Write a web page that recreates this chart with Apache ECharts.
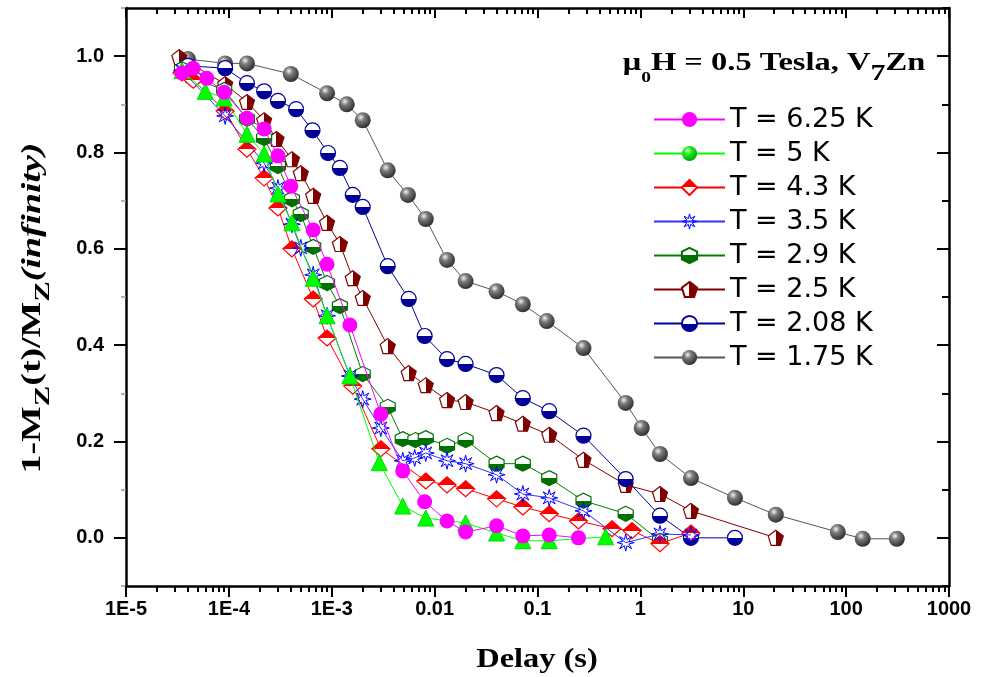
<!DOCTYPE html>
<html>
<head>
<meta charset="utf-8">
<script src="https://cdn.jsdelivr.net/npm/echarts@6/dist/echarts.min.js"></script>
<style>
html,body{margin:0;padding:0;background:#fff;}
#chart{width:985px;height:677px;}
</style>
</head>
<body>
<div id="chart"></div>
<script>
// ---------------- DATA ----------------
const seriesNames = ['T = 6.25 K','T = 5 K','T = 4.3 K','T = 3.5 K','T = 2.9 K','T = 2.5 K','T = 2.08 K','T = 1.75 K'];

const x625 = [3.5e-5,4.5e-5,6.1e-5,9.0e-5,1.5e-4,2.2e-4,3.0e-4,4.0e-4,6.6e-4,9.0e-4,1.5e-3,3.0e-3,4.9e-3,8.0e-3,0.0132,0.02,0.04,0.072,0.13,0.25];
const y625 = [0.965,0.975,0.954,0.925,0.871,0.849,0.793,0.730,0.639,0.568,0.442,0.257,0.139,0.075,0.035,0.012,0.025,0.004,0.006,0.0];

const x5 = [3.5e-5,5.9e-5,9.0e-5,1.5e-4,2.2e-4,3.0e-4,4.1e-4,6.6e-4,9.0e-4,1.5e-3,2.9e-3,4.9e-3,8.2e-3,0.02,0.04,0.072,0.13,0.46];
const y5 = [0.97,0.927,0.913,0.838,0.797,0.714,0.654,0.539,0.461,0.336,0.156,0.066,0.041,0.031,0.010,-0.006,-0.006,0.002];

const x43 = [3.5e-5,4.5e-5,9.2e-5,1.5e-4,2.2e-4,3.0e-4,4.1e-4,6.6e-4,9.0e-4,1.6e-3,3.0e-3,8.2e-3,0.0132,0.02,0.04,0.072,0.13,0.25,0.53,0.83,1.55,3.1];
const y43 = [0.965,0.95,0.886,0.807,0.747,0.685,0.60,0.496,0.415,0.315,0.185,0.118,0.110,0.102,0.081,0.064,0.050,0.035,0.019,0.015,-0.012,0.010];

const x35 = [3.5e-5,9.2e-5,2.2e-4,3.0e-4,4.1e-4,5.0e-4,6.6e-4,9.0e-4,1.5e-3,2.0e-3,3.0e-3,4.9e-3,6.4e-3,8.2e-3,0.0132,0.02,0.04,0.072,0.13,0.28,0.72,1.55,3.1];
const y35 = [0.97,0.876,0.778,0.726,0.651,0.602,0.546,0.461,0.336,0.288,0.228,0.160,0.166,0.176,0.160,0.154,0.131,0.091,0.083,0.056,-0.010,0.008,0.006];

const x29 = [3.5e-5,4.5e-5,9.0e-5,1.5e-4,2.2e-4,3.0e-4,4.1e-4,5.0e-4,6.6e-4,9.0e-4,1.2e-3,2.0e-3,3.5e-3,4.9e-3,6.5e-3,8.2e-3,0.0132,0.02,0.04,0.072,0.13,0.28,0.72,1.55];
const y29 = [0.973,0.954,0.93,0.87,0.830,0.772,0.703,0.672,0.604,0.529,0.481,0.340,0.272,0.205,0.203,0.207,0.191,0.203,0.154,0.154,0.124,0.077,0.050,-0.006];

const x25 = [3.3e-5,9.2e-5,1.5e-4,2.2e-4,2.9e-4,4.1e-4,5.0e-4,6.6e-4,9.0e-4,1.2e-3,1.6e-3,2.0e-3,3.5e-3,5.6e-3,8.2e-3,0.0132,0.02,0.04,0.072,0.13,0.28,0.72,1.55,3.1,20.7];
const y25 = [0.998,0.942,0.905,0.867,0.828,0.786,0.757,0.710,0.654,0.610,0.539,0.498,0.398,0.342,0.317,0.286,0.282,0.259,0.237,0.214,0.162,0.110,0.091,0.056,0.0];

const x208 = [4.0e-5,9.2e-5,1.5e-4,2.2e-4,3.0e-4,4.5e-4,6.5e-4,9.2e-4,1.2e-3,1.6e-3,2.0e-3,3.5e-3,5.6e-3,8.0e-3,0.0132,0.02,0.04,0.072,0.13,0.28,0.72,1.55,3.1,8.3];
const y208 = [0.98,0.975,0.944,0.927,0.907,0.890,0.846,0.799,0.768,0.712,0.687,0.564,0.496,0.419,0.371,0.361,0.338,0.290,0.263,0.212,0.122,0.046,0.0,0.0];

const x175 = [4.0e-5,9.2e-5,1.5e-4,4.0e-4,9.0e-4,1.4e-3,2.0e-3,3.5e-3,5.5e-3,8.2e-3,0.0132,0.02,0.04,0.072,0.123,0.28,0.72,1.03,1.55,3.1,8.3,20.7,83,145,311];
const y175 = [0.994,0.985,0.985,0.963,0.923,0.900,0.867,0.763,0.712,0.662,0.577,0.533,0.512,0.485,0.450,0.394,0.280,0.228,0.174,0.124,0.083,0.048,0.012,-0.002,-0.002];

const xTickValues = [1e-5,1e-4,1e-3,0.01,0.1,1,10,100,1000];
const xTickLabels = ['1E-5','1E-4','1E-3','0.01','0.1','1','10','100','1000'];
const yTickValues = [0.0,0.2,0.4,0.6,0.8,1.0];
const yTickLabels = ['0.0','0.2','0.4','0.6','0.8','1.0'];
const yMinorValues = [-0.1,0.1,0.3,0.5,0.7,0.9,1.1];

// ---------------- helpers ----------------
const xMinorValues = [];
for (let d = -5; d < 3; d++) {
  for (let m = 2; m <= 9; m++) xMinorValues.push(+(m * Math.pow(10, d)).toPrecision(3));
}
function pairs(xs, ys){ return xs.map((x,i)=>[x, ys[i]]); }
function halfV(topColor, bottomColor){
  return {type:'linear',x:0,y:0,x2:0,y2:1,colorStops:[
    {offset:0,color:topColor},{offset:0.5,color:topColor},
    {offset:0.5,color:bottomColor},{offset:1,color:bottomColor}]};
}
function halfH(leftColor, rightColor){
  return {type:'linear',x:0,y:0,x2:1,y2:0,colorStops:[
    {offset:0,color:leftColor},{offset:0.5,color:leftColor},
    {offset:0.5,color:rightColor},{offset:1,color:rightColor}]};
}
function sphere(light, mid, dark){
  return {type:'radial',x:0.38,y:0.32,r:0.7,colorStops:[
    {offset:0,color:light},{offset:0.35,color:mid},{offset:1,color:dark}]};
}
function starPath(n, r1, r2){
  let p = '';
  for (let i = 0; i < 2*n; i++){
    const a = Math.PI*i/n - Math.PI/2;
    const r = (i % 2) ? r2 : r1;
    p += (i ? 'L' : 'M') + (r*Math.cos(a)).toFixed(2) + ',' + (r*Math.sin(a)).toFixed(2) + ' ';
  }
  return 'path://' + p + 'Z';
}
const PENTAGON = 'path://M0,-10 L9.51,-3.09 L5.88,8.09 L-5.88,8.09 L-9.51,-3.09 Z';
const HEXAGON = 'path://M0,-10 L8.66,-5 L8.66,5 L0,10 L-8.66,5 L-8.66,-5 Z';
const STAR = starPath(8, 10, 4);

function lineSeries(name, data, lineColor, symbol, size, itemStyle, z){
  return {
    name, type:'line', data, symbol, symbolSize:size, z,
    showSymbol:true, animation:false,
    lineStyle:{color:lineColor, width:1},
    itemStyle:itemStyle,
    emphasis:{disabled:true}
  };
}

// 5 K: triangles in plot, sphere in legend
const data5 = pairs(x5, y5).map(p => ({value:p, symbol:'triangle', symbolSize:16,
  itemStyle:{color:'#00ff00', borderColor:'#00dd00', borderWidth:1}}));

const series = [
  lineSeries('T = 1.75 K', pairs(x175,y175), '#555555', 'circle', 16,
    {color: sphere('#f2f2f2','#7a7a7a','#2c2c2c')}, 2),
  lineSeries('T = 2.5 K', pairs(x25,y25), '#800000', PENTAGON, 15,
    {color: halfH('#ffffff','#800000'), borderColor:'#800000', borderWidth:1.2}, 3),
  lineSeries('T = 2.08 K', pairs(x208,y208), '#000099', 'circle', 15,
    {color: halfV('#ffffff','#000099'), borderColor:'#000099', borderWidth:1.2}, 4),
  lineSeries('T = 2.9 K', pairs(x29,y29), '#008000', HEXAGON, 15,
    {color: halfV('#ffffff','#007000'), borderColor:'#007000', borderWidth:1.2}, 5),
  lineSeries('T = 4.3 K', pairs(x43,y43), '#ff0000', 'diamond', [18,16],
    {color: halfV('#ff0000','#ffffff'), borderColor:'#ff0000', borderWidth:1.2}, 6),
  lineSeries('T = 3.5 K', pairs(x35,y35), '#3333ff', STAR, 17,
    {color:'rgba(255,255,255,0)', borderColor:'#0000ff', borderWidth:1}, 7),
  lineSeries('T = 5 K', data5, '#00ff00', 'circle', 16,
    {color: sphere('#d8ffd8','#22ee22','#00a000')}, 8),
  lineSeries('T = 6.25 K', pairs(x625,y625), '#ff00ff', 'circle', 15,
    {color:'#ff00ff'}, 9)
];

const legendData = seriesNames.map(n => n === 'T = 3.5 K'
  ? {name:n, itemStyle:{color:'rgba(255,255,255,0)', borderColor:'#0000ff', borderWidth:1}}
  : {name:n});

const tickFont = {fontFamily:'"Liberation Sans", Arial, sans-serif', fontWeight:'bold', fontSize:20, color:'#000'};
function xLabel(v){
  const lg = Math.round(Math.log10(v));
  const idx = xTickValues.findIndex(t => Math.round(Math.log10(t)) === lg);
  return idx >= 0 ? xTickLabels[idx] : '';
}
function yLabel(v){
  const idx = yTickValues.findIndex(t => Math.abs(t - v) < 1e-6);
  return idx >= 0 ? yTickLabels[idx] : '';
}
const xBase = {type:'log', logBase:10, min:1e-5, max:1000, splitLine:{show:false}, axisPointer:{show:false}};
const yBase = {type:'value', min:-0.1, max:1.1, interval:0.1, splitLine:{show:false}};
const frameLine = {show:true, onZero:false, lineStyle:{color:'#000', width:2.5}};
const serif = '"Liberation Serif", "Times New Roman", serif';

const option = {
  backgroundColor:'#ffffff',
  animation:false,
  grid:{left:126, right:36, top:8, bottom:91, containLabel:false},
  xAxis:[
    Object.assign({}, xBase, {position:'bottom', axisLine:frameLine,
      axisTick:{show:true, inside:false, length:11, customValues:xTickValues, lineStyle:{color:'#000', width:2}},
      axisLabel:Object.assign({show:true, margin:13, customValues:xTickValues, formatter:xLabel}, tickFont)}),
    Object.assign({}, xBase, {position:'bottom', axisLine:{show:false, onZero:false},
      axisTick:{show:true, inside:false, length:6, customValues:xMinorValues, lineStyle:{color:'#000', width:2}},
      axisLabel:{show:false}}),
    Object.assign({}, xBase, {position:'top', axisLine:frameLine,
      axisTick:{show:true, inside:true, length:10, customValues:xTickValues, lineStyle:{color:'#000', width:2}},
      axisLabel:{show:false}}),
    Object.assign({}, xBase, {position:'top', axisLine:{show:false, onZero:false},
      axisTick:{show:true, inside:true, length:6, customValues:xMinorValues, lineStyle:{color:'#000', width:2}},
      axisLabel:{show:false}})
  ],
  yAxis:[
    Object.assign({}, yBase, {position:'left', axisLine:frameLine,
      axisTick:{show:true, inside:false, length:12, customValues:yTickValues, lineStyle:{color:'#000', width:2}},
      axisLabel:Object.assign({show:true, margin:22, customValues:yTickValues, formatter:yLabel}, tickFont)}),
    Object.assign({}, yBase, {position:'left', axisLine:{show:false, onZero:false},
      axisTick:{show:true, inside:false, length:5, customValues:yMinorValues, lineStyle:{color:'#999', width:1.5}},
      axisLabel:{show:false}}),
    Object.assign({}, yBase, {position:'right', axisLine:frameLine,
      axisTick:{show:true, inside:true, length:12, customValues:yTickValues, lineStyle:{color:'#000', width:2}},
      axisLabel:{show:false}}),
    Object.assign({}, yBase, {position:'right', axisLine:{show:false, onZero:false},
      axisTick:{show:true, inside:true, length:7, customValues:yMinorValues, lineStyle:{color:'#000', width:2}},
      axisLabel:{show:false}})
  ],
  legend:{
    show:true, orient:'vertical', left:648, top:101,
    itemWidth:71, itemHeight:19, itemGap:7,
    data:legendData,
    selectedMode:false,
    textStyle:{fontFamily:'"DejaVu Sans", sans-serif', fontSize:27, lineHeight:27, color:'#000'}
  },
  graphic:[
    {type:'text', x:537, y:660, scaleX:1.2, z:10,
      style:{text:'Delay (s)', font:'bold 27px ' + serif, fill:'#000',
        textAlign:'center', textVerticalAlign:'middle'}},
    {type:'text', x:33, y:308, rotation:Math.PI/2, scaleX:1.4, z:10,
      style:{
        text:'{a|1-M}{s|Z}{a|(t)/M}{s|Z}{i|(infinity)}',
        fill:'#000', textAlign:'center', textVerticalAlign:'middle',
        rich:{
          a:{fontFamily:serif, fontWeight:'bold', fontSize:27, fill:'#000'},
          s:{fontFamily:serif, fontWeight:'bold', fontSize:22, padding:[20,0,0,0], fill:'#000'},
          i:{fontFamily:serif, fontWeight:'bold', fontStyle:'italic', fontSize:27, fill:'#000'}
        }
      }},
    {type:'text', x:774, y:64, scaleX:1.3, z:10,
      style:{
        text:'{a|μ}{s|0}{a|H = 0.5 Tesla, V}{t|7}{a|Zn}',
        fill:'#000', textAlign:'center', textVerticalAlign:'middle',
        rich:{
          a:{fontFamily:serif, fontWeight:'bold', fontSize:25, fill:'#000'},
          s:{fontFamily:serif, fontWeight:'bold', fontSize:15, padding:[28,0,0,0], fill:'#000'},
          t:{fontFamily:serif, fontWeight:'bold', fontSize:23, padding:[20,0,0,0], fill:'#000'}
        }
      }}
  ],
  series: series
};

const chart = echarts.init(document.getElementById('chart'), null, {renderer:'canvas'});
chart.setOption(option);
</script>
</body>
</html>
